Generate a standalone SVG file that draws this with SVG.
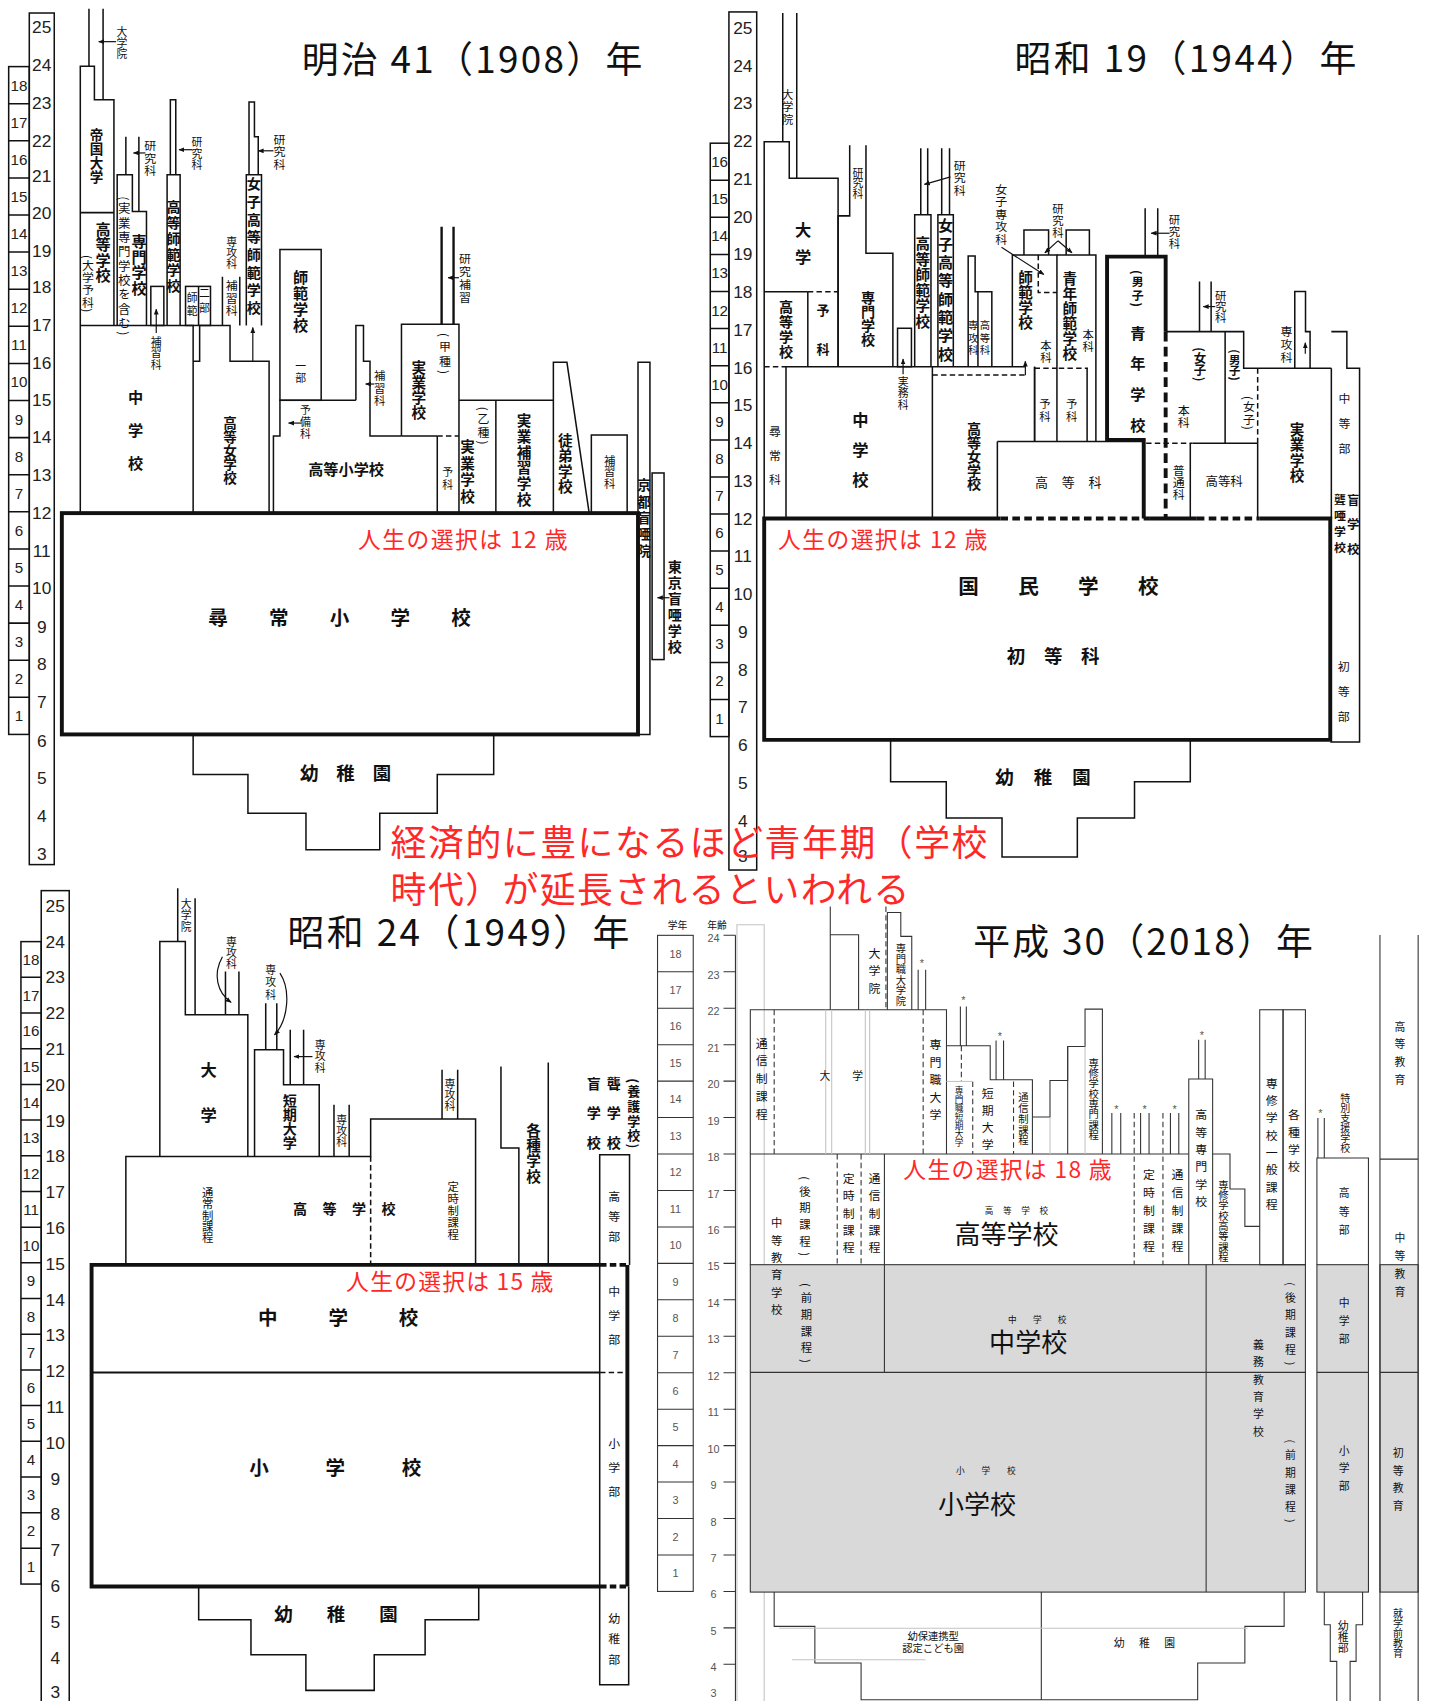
<svg xmlns="http://www.w3.org/2000/svg" width="1429" height="1701" viewBox="0 0 1429 1701">
<defs>
<style>
.t{font-family:"Noto Sans CJK JP","Noto Sans CJK SC",sans-serif;fill:#111}
.b{font-weight:700}
.v{writing-mode:vertical-rl}
.n{font-family:"Liberation Sans","DejaVu Sans",sans-serif;fill:#222;text-anchor:middle;dominant-baseline:central}
.sn{font-family:"Liberation Sans","DejaVu Sans",sans-serif;fill:#555;text-anchor:middle;dominant-baseline:central;font-size:10px}
.r{font-family:"Noto Sans CJK JP","Noto Sans CJK SC",sans-serif;fill:#ff2828}
.ti{font-family:"Noto Sans CJK JP","Noto Sans CJK SC",sans-serif;fill:#111;font-size:34px}
.l{fill:none;stroke:#111;stroke-width:1.4}
.k{fill:none;stroke:#111;stroke-width:3.6}
.d{stroke-dasharray:5 3}
.q{fill:none;stroke:#333;stroke-width:1}
.gr{fill:#d9d9d9;stroke:#333;stroke-width:1}
.lg{fill:none;stroke:#c4c4c4;stroke-width:1}
.a{fill:none;stroke:#111;stroke-width:1.1;marker-end:url(#ah)}
</style>
<marker id="ah" viewBox="0 0 10 10" refX="9" refY="5" markerWidth="5" markerHeight="5" orient="auto"><path d="M0,1L10,5L0,9z" fill="#111"/></marker>
</defs>
<rect x="0" y="0" width="1429" height="1701" fill="#fff"/>
<g transform="scale(1.08504,1.08482)">

<!-- ===================== 明治41 ===================== -->
<g id="p1908">
<text class="ti" x="278" y="67" textLength="314">明治 41（1908）年</text>
<g id="tl-ruler">
<rect class="l" x="27" y="12" width="23" height="785"/>
<rect class="l" x="8" y="61.4" width="19" height="615.6"/>
<path class="l" d="M8,642.8H27M8,608.6H27M8,574.4H27M8,540.2H27M8,506H27M8,471.8H27M8,437.6H27M8,403.4H27M8,369.2H27M8,335H27M8,300.8H27M8,266.6H27M8,232.4H27M8,198.2H27M8,164H27M8,129.8H27M8,95.6H27"/>
<g class="n" font-size="16">
<text x="38.5" y="25">25</text><text x="38.5" y="60">24</text><text x="38.5" y="95">23</text><text x="38.5" y="130">22</text><text x="38.5" y="162">21</text><text x="38.5" y="196">20</text><text x="38.5" y="231">19</text><text x="38.5" y="265">18</text><text x="38.5" y="300">17</text><text x="38.5" y="335">16</text><text x="38.5" y="369">15</text><text x="38.5" y="403">14</text><text x="38.5" y="438">13</text><text x="38.5" y="473">12</text><text x="38.5" y="508">11</text><text x="38.5" y="542">10</text><text x="38.5" y="578">9</text><text x="38.5" y="612">8</text><text x="38.5" y="647">7</text><text x="38.5" y="683">6</text><text x="38.5" y="717">5</text><text x="38.5" y="752">4</text><text x="38.5" y="787">3</text>
</g>
<g class="n" font-size="14">
<text x="17.5" y="78.5">18</text><text x="17.5" y="112.7">17</text><text x="17.5" y="146.9">16</text><text x="17.5" y="181.1">15</text><text x="17.5" y="215.3">14</text><text x="17.5" y="249.5">13</text><text x="17.5" y="283.7">12</text><text x="17.5" y="317.9">11</text><text x="17.5" y="352.1">10</text><text x="17.5" y="386.3">9</text><text x="17.5" y="420.5">8</text><text x="17.5" y="454.7">7</text><text x="17.5" y="488.9">6</text><text x="17.5" y="523.1">5</text><text x="17.5" y="557.3">4</text><text x="17.5" y="591.5">3</text><text x="17.5" y="625.7">2</text><text x="17.5" y="659.9">1</text>
</g>
</g>
<g id="tl-teikoku">
<path class="l" d="M82,8V61M95,8V92"/>
<path class="l" d="M74,473V61H87V92H105V300"/>
<path class="l" d="M74,196H105"/>
<text class="t v" x="112.4" y="24.6" font-size="10">大学院</text>
<text class="t v b" x="89" y="118" font-size="12.5" style="letter-spacing:0.3px">帝国大学</text>
<text class="t v b" x="95" y="204" font-size="14" style="letter-spacing:0.3px">高等学校</text>
<text class="t v" x="81" y="235" font-size="11" style="letter-spacing:0.3px">(大学予科)</text>
</g>
<g id="tl-chugaku">
<path class="l" d="M74,300H178V473"/>
<text class="t v b" x="125" y="359" font-size="14" style="letter-spacing:16.5px">中学校</text>
</g>
<g id="tl-senmon">
<path class="l" d="M108,300V161H122V195H135V300"/>
<path class="l" d="M116,126V161M128,126V195"/>
<text class="t v" x="114.5" y="181" font-size="11.5" style="letter-spacing:1.7px">(実業専門学校を含む)</text>
<text class="t v b" x="128.2" y="215" font-size="14" style="letter-spacing:0.7px">専門学校</text>
<text class="t v" x="138.5" y="129" font-size="11" style="letter-spacing:0.5px">研究科</text>
</g>
<g id="tl-hoshu1">
<rect class="l" x="139" y="264" width="12" height="36"/>
<text class="t v" x="144" y="310" font-size="10" style="letter-spacing:0.5px">補習科</text>
</g>
<g id="tl-koshi">
<path class="l" d="M154,300V161H166V300M157,161V92H162V161"/>
<text class="t v b" x="160" y="184" font-size="13" style="letter-spacing:1.6px">高等師範学校</text>
<text class="t v" x="181.5" y="126" font-size="10" style="letter-spacing:0.5px">研究科</text>
</g>
<g id="tl-nibu">
<rect class="l" x="171" y="264" width="23" height="36"/>
<path class="l" d="M183,264V300"/>
<text class="t v" x="177" y="270" font-size="10" style="letter-spacing:2px">師範</text>
<text class="t v" x="188.5" y="265" font-size="10" style="letter-spacing:4px">二部</text>
</g>
<g id="tl-kojo">
<path class="l" d="M178,333H184V300H212V333H248V473"/>
<path class="l" d="M205,255V300M221,255V300"/>
<text class="t v" x="213.5" y="218" font-size="10">専攻科</text>
<text class="t v" x="213.5" y="258" font-size="11" style="letter-spacing:0.5px">補習科</text>
<text class="t v b" x="212" y="384" font-size="12.5">高等女学校</text>
</g>
<g id="tl-joshikoshi">
<path class="l" d="M227,300V161H241V300M229.5,161V94H234.5V126H238V161"/>
<text class="t v b" x="234" y="163" font-size="13" style="letter-spacing:3.3px">女子高等師範学校</text>
<text class="t v" x="257.5" y="123" font-size="11" style="letter-spacing:0.5px">研究科</text>
</g>
<g id="tl-shihan">
<rect class="l" x="258" y="230" width="38" height="139"/>
<text class="t v b" x="277" y="249" font-size="14" style="letter-spacing:0.7px">師範学校</text>
<text class="t v" x="277" y="332" font-size="10" style="letter-spacing:1px">一部</text>
</g>
<g id="tl-koshogaku">
<path class="l" d="M252,473V402H258V369H328"/>
<path class="l" d="M328,369V300H335V333H341V402H370"/>
<text class="t v" x="281.5" y="373" font-size="10" style="letter-spacing:1px">予備科</text>
<text class="t v" x="350" y="341" font-size="10.5" style="letter-spacing:1.2px">補習科</text>
<text class="t b" x="284" y="438" font-size="14">高等小学校</text>
</g>
<g id="tl-jitsugyo-ko">
<path class="l" d="M370,402V299H423V473M370,402H403M403,402V473"/>
<path class="l d" d="M403,402H423"/>
<path class="l" style="stroke-width:2.2" d="M407,299V209M418,299V209"/>
<text class="t v b" x="386" y="332" font-size="13.5" style="letter-spacing:0.3px">実業学校</text>
<text class="t v" x="410" y="307" font-size="11" style="letter-spacing:2.8px">(甲種)</text>
<text class="t v" x="428.5" y="233" font-size="11" style="letter-spacing:1px">研究補習</text>
<text class="t v" x="412.5" y="430" font-size="10" style="letter-spacing:2px">予科</text>
</g>
<g id="tl-jitsugyo-otsu">
<path class="l" d="M423,369H510M457,369V473"/>
<text class="t v" x="445.6" y="375" font-size="11" style="letter-spacing:1.8px">(乙種)</text>
<text class="t v b" x="431" y="405" font-size="13.5" style="letter-spacing:1.7px">実業学校</text>
<text class="t v b" x="483" y="381" font-size="13.5" style="letter-spacing:1px">実業補習学校</text>
</g>
<g id="tl-totei">
<path class="l" d="M510,473V334H522.5L543,473"/>
<text class="t v b" x="521" y="399" font-size="13.5" style="letter-spacing:0.7px">徒弟学校</text>
</g>
<g id="tl-hoshu3">
<rect class="l" x="545" y="401" width="33" height="72"/>
<text class="t v" x="562" y="419" font-size="10.5" style="letter-spacing:0.3px">補習科</text>
</g>
<g id="tl-kyoto">
<path class="l" d="M588,473V334H599V677H588"/>
<text class="t v b" x="593.5" y="441" font-size="12.5" style="letter-spacing:2.6px">京都盲唖院</text>
</g>
<g id="tl-tokyo">
<rect class="l" x="601" y="436" width="11" height="172"/>
<text class="t v b" x="622" y="516" font-size="13" style="letter-spacing:1.8px">東京盲唖学校</text>
</g>
<g id="tl-jinjo">
<rect class="k" x="57" y="473" width="531" height="204"/>
<text class="t b" x="192" y="576" font-size="18" style="letter-spacing:38px">尋常小学校</text>
<text class="r" x="330" y="505" font-size="21" textLength="193">人生の選択は 12 歳</text>
</g>
<g id="tl-yochien">
<path class="l" d="M178,677V714H228.5V749.6H282V783.4H350V749.6H403V714H455V677"/>
<text class="t b" x="276.5" y="719" font-size="17" style="letter-spacing:16.5px">幼稚園</text>
</g>
</g>

<!-- ===================== 昭和19 ===================== -->
<g id="p1944">
<text class="ti" x="935" y="66" textLength="315">昭和 19（1944）年</text>
<g id="tr-ruler">
<rect class="l" x="671.8" y="11" width="25.6" height="791"/>
<rect class="l" x="654.6" y="132" width="17.2" height="547"/>
<path class="l" d="M654.6,644.8H671.8M654.6,610.6H671.8M654.6,576.4H671.8M654.6,542.2H671.8M654.6,508H671.8M654.6,473.9H671.8M654.6,439.7H671.8M654.6,405.5H671.8M654.6,371.3H671.8M654.6,337.1H671.8M654.6,302.9H671.8M654.6,268.7H671.8M654.6,234.5H671.8M654.6,200.3H671.8M654.6,166.2H671.8"/>
<g class="n" font-size="16">
<text x="684.6" y="25.6">25</text><text x="684.6" y="60.4">24</text><text x="684.6" y="95.2">23</text><text x="684.6" y="130">22</text><text x="684.6" y="164.8">21</text><text x="684.6" y="199.6">20</text><text x="684.6" y="234.4">19</text><text x="684.6" y="269.2">18</text><text x="684.6" y="304">17</text><text x="684.6" y="338.8">16</text><text x="684.6" y="373.6">15</text><text x="684.6" y="408.4">14</text><text x="684.6" y="443.2">13</text><text x="684.6" y="478">12</text><text x="684.6" y="512.8">11</text><text x="684.6" y="547.6">10</text><text x="684.6" y="582.4">9</text><text x="684.6" y="617.2">8</text><text x="684.6" y="652">7</text><text x="684.6" y="686.8">6</text><text x="684.6" y="721.6">5</text><text x="684.6" y="756.4">4</text><text x="684.6" y="789.5">3</text>
</g>
<g class="n" font-size="14">
<text x="663.2" y="149.1">16</text><text x="663.2" y="183.3">15</text><text x="663.2" y="217.5">14</text><text x="663.2" y="251.6">13</text><text x="663.2" y="285.8">12</text><text x="663.2" y="320">11</text><text x="663.2" y="354.2">10</text><text x="663.2" y="388.4">9</text><text x="663.2" y="422.6">8</text><text x="663.2" y="456.8">7</text><text x="663.2" y="491">6</text><text x="663.2" y="525.1">5</text><text x="663.2" y="559.3">4</text><text x="663.2" y="593.5">3</text><text x="663.2" y="627.7">2</text><text x="663.2" y="661.9">1</text>
</g>
</g>
<g id="tr-daigaku">
<path class="l" d="M721.4,12V130.6M734.3,12V164.4"/>
<path class="l" d="M704.3,478V130.6H727.4V164.4H772.4V338"/>
<path class="l" d="M704.3,269H744.5M744.5,269V338"/>
<path class="l d" d="M744.5,269H772.4"/>
<text class="t v" x="726" y="82" font-size="10.5" style="letter-spacing:1px">大学院</text>
<text class="t v b" x="740.3" y="204.5" font-size="15" style="letter-spacing:10px">大学</text>
<text class="t v b" x="724.4" y="276" font-size="13" style="letter-spacing:1px">高等学校</text>
<text class="t v b" x="758.6" y="280" font-size="12" style="letter-spacing:24px">予科</text>
</g>
<g id="tr-jinjoka">
<path class="l d" d="M704.3,338H724.4"/>
<path class="l" d="M724.4,338V478"/>
<text class="t v" x="714.3" y="392.3" font-size="11" style="letter-spacing:11.3px">尋常科</text>
</g>
<g id="tr-chugaku">
<path class="l" d="M724.4,338H945M859.3,338V478"/>
<text class="t v b" x="793" y="379.5" font-size="15" style="letter-spacing:12.5px">中学校</text>
</g>
<g id="tr-senmon">
<path class="l" d="M772.4,338V199H783.1V134M798.1,134V233.5H822.9V338"/>
<text class="t v b" x="800" y="268" font-size="13">専門学校</text>
<text class="t v" x="790.8" y="154" font-size="10">研究科</text>
</g>
<g id="tr-jitsumu">
<rect class="l" x="827.2" y="302.6" width="12.8" height="35.4"/>
<text class="t v" x="832.3" y="347" font-size="10" style="letter-spacing:0.5px">実務科</text>
</g>
<g id="tr-koshi">
<path class="l" d="M843,338V198H858V338M848.6,198V136.7M855,198V136.7"/>
<text class="t v b" x="850.6" y="218" font-size="13.5" style="letter-spacing:0.8px">高等師範学校</text>
</g>
<g id="tr-joshikoshi">
<path class="l" d="M864.4,338V198H878.6V338M867.9,198V136.7M875.1,198V136.7"/>
<text class="t v b" x="871.5" y="201" font-size="14" style="letter-spacing:2.9px">女子高等師範学校</text>
<text class="t v" x="884.5" y="147" font-size="11" style="letter-spacing:0.5px">研究科</text>
</g>
<g id="tr-kojo">
<path class="l d" d="M859.3,345.6H945"/>
<path class="l" d="M953.5,338V407M919.2,407V478"/>
<text class="t v b" x="897.8" y="389" font-size="13" style="letter-spacing:-0.3px">高等女学校</text>
</g>
<g id="tr-senkoka">
<path class="l" d="M892.3,338V236H898.7V269H914.1V338M901.3,269V338"/>
<text class="t v" x="896.8" y="295" font-size="9.5" style="letter-spacing:2px">専攻科</text>
<text class="t v" x="907.7" y="295" font-size="9.5" style="letter-spacing:2px">高等科</text>
<text class="t v" x="922.7" y="169" font-size="11" style="letter-spacing:0.5px">女子専攻科</text>
</g>
<g id="tr-shihan">
<path class="l" d="M933,338V235H974.1V407M953.5,338V407M943.7,235V212H966.4V235M982.6,235V212H1004V235"/>
<path class="l d" d="M956.9,235V269.7H974.1M953.5,339.5H974.1"/>
<text class="t v" x="975" y="187" font-size="10.5" style="letter-spacing:0.7px">研究科</text>
<text class="t v b" x="945.2" y="249" font-size="13.5" style="letter-spacing:0.3px">師範学校</text>
<text class="t v" x="964" y="313" font-size="10.5" style="letter-spacing:1px">本科</text>
<text class="t v" x="963" y="367" font-size="10.5" style="letter-spacing:1px">予科</text>
</g>
<g id="tr-seinenshihan">
<path class="l" d="M974.1,235H1010V407M1001.9,339.5V407"/>
<path class="l d" d="M975.8,339.5H1002.7"/>
<text class="t v b" x="986" y="250" font-size="13.5" style="letter-spacing:0.4px">青年師範学校</text>
<text class="t v" x="1003" y="303" font-size="10.5" style="letter-spacing:1px">本科</text>
<text class="t v" x="987.8" y="367" font-size="10.5" style="letter-spacing:1px">予科</text>
</g>
<g id="tr-kotoka">
<path class="l" d="M919.2,407H1054.1"/>
<text class="t" x="954" y="449" font-size="12" style="letter-spacing:12.6px">高等科</text>
</g>
<g id="tr-seinen">
<path class="k" d="M1054.1,478V405.5H1020.3V236.6H1074.3V305.7"/>
<path class="k" style="stroke-dasharray:9 5" d="M1074.3,305.7V478"/>
<path class="l" d="M1055.4,192V236.6M1067,192V236.6"/>
<text class="t v" x="1082.5" y="197" font-size="10.5" style="letter-spacing:0.7px">研究科</text>
<text class="t v b" x="1048.6" y="249" font-size="11" style="letter-spacing:1.2px">(男子)</text>
<text class="t v b" x="1048.6" y="300" font-size="14" style="letter-spacing:14.3px">青年学校</text>
</g>
<g id="tr-joshi">
<path class="l" d="M1074.3,305.7H1146.2V339.5H1227M1129.1,305.7V408.6M1105.5,259.6V305.7M1116.2,259.6V305.7M1099.1,408.6H1159.1M1097,408.6V478M1159.1,408.6V478"/>
<path class="l d" d="M1159.1,339.5V408.6M1056.3,408.6H1099.1"/>
<text class="t v" x="1125" y="267" font-size="10.5">研究科</text>
<text class="t v b" x="1106" y="320" font-size="11.5">(女子)</text>
<text class="t v" x="1091" y="373" font-size="11">本科</text>
<text class="t v b" x="1138" y="322" font-size="10.5">(男子)</text>
<text class="t v" x="1151" y="365" font-size="11" style="letter-spacing:0.6px">(女子)</text>
<text class="t v" x="1086.3" y="428" font-size="11">普通科</text>
<text class="t" x="1128.2" y="448" font-size="11.5" text-anchor="middle">高等科</text>
</g>
<g id="tr-jitsugyo">
<path class="l" d="M1193.3,339.5V268.8H1203.2V305.7H1207.4V339.5M1227,339.5V478"/>
<text class="t v" x="1185.6" y="300" font-size="11" style="letter-spacing:1px">専攻科</text>
<text class="t v b" x="1195.4" y="389" font-size="13.5" style="letter-spacing:0.7px">実業学校</text>
</g>
<g id="tr-mou">
<path class="l" d="M1227,305.7H1241.3V339.5H1253V684H1226"/>
<text class="t v" x="1239" y="361.5" font-size="11" style="letter-spacing:12px">中等部</text>
<text class="t v b" x="1235" y="455" font-size="11" style="letter-spacing:3.7px">聾唖学校</text>
<text class="t v b" x="1247.3" y="455" font-size="11.5" style="letter-spacing:11.2px">盲学校</text>
<text class="t v" x="1238.5" y="609" font-size="11" style="letter-spacing:12px">初等部</text>
</g>
<g id="tr-kokumin">
<path class="k" d="M922,478H704.3V682H1226V478H1161"/>
<path class="k" d="M1059,478H1103"/>
<path class="k" style="stroke-dasharray:7 4" d="M922,478H1059M1103,478H1161"/>
<text class="t b" x="883.2" y="547.5" font-size="19" style="letter-spacing:36.2px">国民学校</text>
<text class="t b" x="927.9" y="611" font-size="17" style="letter-spacing:17.2px">初等科</text>
<text class="r" x="717" y="505" font-size="21" textLength="193">人生の選択は 12 歳</text>
</g>
<g id="tr-yochien">
<path class="l" d="M820.8,682V720.6H872.1V754H923.5V790H992.9V754H1045.6V720.6H1097V682"/>
<text class="t b" x="917.2" y="723" font-size="17" style="letter-spacing:18.5px">幼稚園</text>
</g>
</g>

<!-- ===================== 昭和24 ===================== -->
<g id="p1949">
<text class="ti" x="265" y="872" textLength="315">昭和 24（1949）年</text>
<g id="bl-ruler">
<rect class="l" x="38" y="821" width="25.8" height="760"/>
<rect class="l" x="19.3" y="868" width="18.7" height="592.2"/>
<path class="l" d="M19.3,1427.3H38M19.3,1394.4H38M19.3,1361.5H38M19.3,1328.6H38M19.3,1295.7H38M19.3,1262.8H38M19.3,1229.9H38M19.3,1197H38M19.3,1164.1H38M19.3,1131.2H38M19.3,1098.3H38M19.3,1065.4H38M19.3,1032.5H38M19.3,999.6H38M19.3,966.7H38M19.3,933.8H38M19.3,900.9H38"/>
<g class="n" font-size="16">
<text x="50.9" y="835">25</text><text x="50.9" y="868">24</text><text x="50.9" y="901">23</text><text x="50.9" y="934">22</text><text x="50.9" y="967">21</text><text x="50.9" y="1000">20</text><text x="50.9" y="1033">19</text><text x="50.9" y="1066">18</text><text x="50.9" y="1099">17</text><text x="50.9" y="1132">16</text><text x="50.9" y="1165">15</text><text x="50.9" y="1198">14</text><text x="50.9" y="1231">13</text><text x="50.9" y="1264">12</text><text x="50.9" y="1297">11</text><text x="50.9" y="1330">10</text><text x="50.9" y="1363">9</text><text x="50.9" y="1396">8</text><text x="50.9" y="1429">7</text><text x="50.9" y="1462">6</text><text x="50.9" y="1495">5</text><text x="50.9" y="1528">4</text><text x="50.9" y="1560">3</text>
</g>
<g class="n" font-size="14">
<text x="28.6" y="884.5">18</text><text x="28.6" y="917.4">17</text><text x="28.6" y="950.3">16</text><text x="28.6" y="983.2">15</text><text x="28.6" y="1016.1">14</text><text x="28.6" y="1049">13</text><text x="28.6" y="1081.9">12</text><text x="28.6" y="1114.8">11</text><text x="28.6" y="1147.7">10</text><text x="28.6" y="1180.6">9</text><text x="28.6" y="1213.5">8</text><text x="28.6" y="1246.4">7</text><text x="28.6" y="1279.3">6</text><text x="28.6" y="1312.2">5</text><text x="28.6" y="1345.1">4</text><text x="28.6" y="1378">3</text><text x="28.6" y="1410.9">2</text><text x="28.6" y="1443.8">1</text>
</g>
</g>
<g id="bl-daigaku">
<path class="l" d="M163.8,818.7V867.9M179.8,828V935.4"/>
<path class="l" d="M147.3,1066V867.9H170.8V935.4H228.4V1066"/>
<path class="l" d="M207.8,895.5V935.4M220.2,895.5V935.4"/>
<text class="t v" x="171.5" y="828" font-size="10" style="letter-spacing:0.5px">大学院</text>
<text class="t v b" x="192.2" y="978.6" font-size="15" style="letter-spacing:26.5px">大学</text>
<text class="t v" x="213.3" y="863" font-size="10" style="letter-spacing:0.5px">専攻科</text>
</g>
<g id="bl-tandai">
<path class="l" d="M234.6,1066V967.7H261.3V1000H294.2V1066M244.9,924.7V967.7M255.1,924.7V967.7M267.5,949.3V1000M279.8,949.3V1000"/>
<text class="t v" x="249.5" y="889" font-size="10" style="letter-spacing:1.5px">専攻科</text>
<text class="t v" x="295" y="958" font-size="10" style="letter-spacing:0.5px">専攻科</text>
<text class="t v b" x="267" y="1008" font-size="13">短期大学</text>
</g>
<g id="bl-senko">
<path class="l" d="M307.8,1018.4V1066M321.8,1018.4V1066"/>
<text class="t v" x="314.8" y="1027" font-size="10" style="letter-spacing:0.5px">専攻科</text>
</g>
<g id="bl-koko">
<path class="l" d="M116,1166V1066H341.6V1031.6H438.3V1166M407.4,986.1V1031.6M421.8,986.1V1031.6"/>
<path class="l d" d="M341.6,1066V1166"/>
<text class="t v" x="191.4" y="1094" font-size="10.5">通常制課程</text>
<text class="t b" x="270" y="1119.5" font-size="13" style="letter-spacing:14.2px">高等学校</text>
<text class="t v" x="417.7" y="1089" font-size="10.5" style="letter-spacing:0.4px">定時制課程</text>
<text class="t v" x="414.6" y="994" font-size="10">専攻科</text>
</g>
<g id="bl-kakushu">
<path class="l" d="M461.7,983V1058.3H478.2V1166M505.3,979.4V1166"/>
<text class="t v b" x="491.8" y="1035" font-size="13.5" style="letter-spacing:0.7px">各種学校</text>
</g>
<g id="bl-tokushu">
<path class="l" d="M552.7,1166V1064.5H580.2V1166"/>
<text class="t v b" x="547.3" y="992" font-size="13" style="letter-spacing:14.6px">盲学校</text>
<text class="t v b" x="565.8" y="992" font-size="13" style="letter-spacing:14.6px">聾学校</text>
<text class="t v b" x="584" y="994" font-size="12" style="letter-spacing:1.5px">(養護学校)</text>
<text class="t v" x="566" y="1097.5" font-size="11" style="letter-spacing:7.4px">高等部</text>
<text class="t v" x="566" y="1185" font-size="11" style="letter-spacing:11.3px">中学部</text>
<text class="t v" x="566" y="1324.8" font-size="11" style="letter-spacing:11.3px">小学部</text>
<text class="t v" x="566" y="1486" font-size="11" style="letter-spacing:8.2px">幼稚部</text>
<path class="l" d="M552.7,1166V1462.4M552.7,1462.4V1553H579.4V1462.4"/>
<path class="l d" d="M553,1265.2H578"/>
</g>
<g id="bl-gimu">
<path class="k" d="M553,1166H84.4V1462.4H553M578.2,1166V1462.4"/>
<path class="k" style="stroke-dasharray:6 3" d="M553,1166H578.2M553,1462.4H578.2"/>
<path class="l" style="stroke-width:1.8" d="M84.4,1265.2H553"/>
<text class="t b" x="237.9" y="1221" font-size="18" style="letter-spacing:46.8px">中学校</text>
<text class="t b" x="229.7" y="1359.5" font-size="18" style="letter-spacing:52.3px">小学校</text>
<text class="r" x="319" y="1189" font-size="21" textLength="191">人生の選択は 15 歳</text>
</g>
<g id="bl-yochien">
<path class="l" d="M183.1,1462.4V1493.1H231.3V1525.4H281.9V1558.2H344.9V1525.4H391.8V1493.1H441.2V1462.4"/>
<text class="t b" x="252.8" y="1494" font-size="17" style="letter-spacing:31.4px">幼稚園</text>
</g>
</g>

<!-- ===================== 平成30 ===================== -->
<g id="p2018">
<text class="ti" x="897" y="880" textLength="313">平成 30（2018）年</text>
<path class="lg" d="M679.2,1568V852.5H704.3V1568"/>
<g id="br-axis">
<text class="t" x="624.3" y="856" font-size="9" text-anchor="middle" fill="#444">学年</text>
<text class="t" x="660.9" y="856" font-size="9" text-anchor="middle" fill="#444">年齢</text>
<rect class="q" x="606" y="862.2" width="32.9" height="604.8"/>
<path class="q" d="M606,895.8H638.9M606,929.4H638.9M606,963H638.9M606,996.6H638.9M606,1030.2H638.9M606,1063.8H638.9M606,1097.4H638.9M606,1131H638.9M606,1164.6H638.9M606,1198.2H638.9M606,1231.8H638.9M606,1265.4H638.9M606,1299H638.9M606,1332.6H638.9M606,1366.2H638.9M606,1399.8H638.9M606,1433.4H638.9"/>
<path class="q" d="M677.8,862.2V1568M666.8,862.2H677.8M666.8,895.8H677.8M666.8,929.4H677.8M666.8,963H677.8M666.8,996.6H677.8M666.8,1030.2H677.8M666.8,1063.8H677.8M666.8,1097.4H677.8M666.8,1131H677.8M666.8,1164.6H677.8M666.8,1198.2H677.8M666.8,1231.8H677.8M666.8,1265.4H677.8M666.8,1299H677.8M666.8,1332.6H677.8M666.8,1366.2H677.8M666.8,1399.8H677.8M666.8,1433.4H677.8M666.8,1467H677.8M666.8,1500.6H677.8M666.8,1534.2H677.8"/>
<g class="sn">
<text x="657.5" y="865">24</text><text x="657.5" y="898.6">23</text><text x="657.5" y="932.2">22</text><text x="657.5" y="965.8">21</text><text x="657.5" y="999.4">20</text><text x="657.5" y="1033">19</text><text x="657.5" y="1066.6">18</text><text x="657.5" y="1100.2">17</text><text x="657.5" y="1133.8">16</text><text x="657.5" y="1167.4">15</text><text x="657.5" y="1201">14</text><text x="657.5" y="1234.6">13</text><text x="657.5" y="1268.2">12</text><text x="657.5" y="1301.8">11</text><text x="657.5" y="1335.4">10</text><text x="657.5" y="1369">9</text><text x="657.5" y="1402.6">8</text><text x="657.5" y="1436.2">7</text><text x="657.5" y="1469.8">6</text><text x="657.5" y="1503.4">5</text><text x="657.5" y="1537">4</text><text x="657.5" y="1561">3</text>
<text x="622.5" y="879">18</text><text x="622.5" y="912.6">17</text><text x="622.5" y="946.2">16</text><text x="622.5" y="979.8">15</text><text x="622.5" y="1013.4">14</text><text x="622.5" y="1047">13</text><text x="622.5" y="1080.6">12</text><text x="622.5" y="1114.2">11</text><text x="622.5" y="1147.8">10</text><text x="622.5" y="1181.4">9</text><text x="622.5" y="1215">8</text><text x="622.5" y="1248.6">7</text><text x="622.5" y="1282.2">6</text><text x="622.5" y="1315.8">5</text><text x="622.5" y="1349.4">4</text><text x="622.5" y="1383">3</text><text x="622.5" y="1416.6">2</text><text x="622.5" y="1450.2">1</text>
</g>
</g>
<g id="br-gimu">
<rect class="gr" x="691.5" y="1165.8" width="511.6" height="301.8"/>
<path class="q" d="M691.5,1265.1H1203.1M815.1,1165.8V1265.1M1111.6,1165.8V1467.6"/>
<text class="t" x="929.1" y="1219.5" font-size="8" fill="#444" style="letter-spacing:14.9px">中学校</text>
<text class="t" x="911.6" y="1246.5" font-size="24">中学校</text>
<text class="t" x="881.1" y="1359" font-size="8" fill="#444" style="letter-spacing:15.5px">小学校</text>
<text class="t" x="864.5" y="1395.5" font-size="24">小学校</text>
<text class="t v" x="1159.7" y="1234.6" font-size="10" style="letter-spacing:6px">義務教育学校</text>
<text class="t v" x="1189.4" y="1182" font-size="10" style="letter-spacing:6px">(後期課程)</text>
<text class="t v" x="1189.4" y="1327" font-size="10" style="letter-spacing:6px">(前期課程)</text>
<text class="t v" x="743.2" y="1182.8" font-size="10.5" style="letter-spacing:4.9px">(前期課程)</text>
</g>
<g id="br-tokubetsu">
<rect class="gr" x="1213.7" y="1165.8" width="47.5" height="301.8"/>
<path class="q" d="M1213.7,1265.1H1261.2M1213.7,1165.8V1067.5H1261.2V1165.8M1214.6,1030.7V1067.5M1220.5,1030.7V1067.5"/>
<path class="q" d="M1220.5,1467.6V1497.7H1226V1531.5H1232V1568M1255.8,1467.6V1497.7H1249.8V1531.5H1244.3V1568"/>
<text class="t v" x="1239.7" y="1007.6" font-size="9.2">特別支援学校</text>
<text class="t v" x="1238.8" y="1094.8" font-size="10" style="letter-spacing:6.9px">高等部</text>
<text class="t v" x="1238.8" y="1196.2" font-size="10" style="letter-spacing:6.6px">中学部</text>
<text class="t v" x="1238.8" y="1332" font-size="10" style="letter-spacing:6.3px">小学部</text>
<text class="t v" x="1238" y="1494" font-size="10">幼稚部</text>
</g>
<g id="br-kubun">
<rect class="gr" x="1271.8" y="1165.8" width="35.2" height="301.8"/>
<path class="q" d="M1271.8,1265.1H1307M1271.8,862V1568M1307,862V1568M1271.8,1068.5H1307"/>
<text class="t v" x="1290.1" y="941.2" font-size="10" style="letter-spacing:6.4px">高等教育</text>
<text class="t v" x="1290.1" y="1136.3" font-size="10" style="letter-spacing:6.4px">中等教育</text>
<text class="t v" x="1288.5" y="1334.5" font-size="10" style="letter-spacing:6.2px">初等教育</text>
<text class="t v" x="1288.5" y="1482.3" font-size="9.2">就学前教育</text>
</g>
<g id="br-koko">
<path class="q" d="M691.5,1165.8V1063.8H1095.6M815.1,1063.8V1165.8"/>
<path class="q d" d="M771.6,1063.8V1165.8M793.6,1063.8V1165.8M1045.3,1026V1165.8M1071.8,1026V1165.8"/>
<text class="t v" x="715.8" y="1122.2" font-size="10.5" style="letter-spacing:5.5px">中等教育学校</text>
<text class="t v" x="741.9" y="1084.4" font-size="10.5" style="letter-spacing:4.9px">(後期課程)</text>
<text class="t v" x="782.1" y="1080.5" font-size="11" style="letter-spacing:5.1px">定時制課程</text>
<text class="t v" x="805.9" y="1080.5" font-size="11" style="letter-spacing:5.1px">通信制課程</text>
<text class="t" x="907.6" y="1119" font-size="8" fill="#444" style="letter-spacing:8.8px">高等学校</text>
<text class="t" x="879.6" y="1147" font-size="24">高等学校</text>
<text class="t v" x="1059" y="1077.5" font-size="11" style="letter-spacing:5.5px">定時制課程</text>
<text class="t v" x="1085.1" y="1077.5" font-size="11" style="letter-spacing:5.5px">通信制課程</text>
<text class="r" x="832.5" y="1086" font-size="21" textLength="192">人生の選択は 18 歳</text>
</g>
<g id="br-kosen">
<path class="q" d="M1095.6,1165.8V994.7H1117.6V1165.8M1104.7,958.5V994.7M1110.7,958.5V994.7"/>
<text class="t v" x="1107.1" y="1022.1" font-size="11" style="letter-spacing:5px">高等専門学校</text>
</g>
<g id="br-senshu">
<path class="q" d="M1117.6,1063.8H1133.6V1096.1H1147.3V1130.5H1161"/>
<rect class="q" x="1161" y="930.8" width="21.5" height="235"/>
<rect class="q" x="1182.5" y="930.8" width="20.6" height="235"/>
<text class="t v" x="1127.6" y="1087.5" font-size="9.5">専修学校高等課程</text>
<text class="t v" x="1172" y="993" font-size="11" style="letter-spacing:5px">専修学校一般課程</text>
<text class="t v" x="1192.6" y="1022.1" font-size="11" style="letter-spacing:4.9px">各種学校</text>
</g>
<g id="br-daigaku">
<path class="q" d="M691.5,1063.8V930.8H872.3V1063.8"/>
<path class="q d" d="M713.5,930.8V1063.8M850.8,930.8V1063.8"/>
<path class="lg" d="M761,930.8V1063.8M766.5,930.8V1063.8M797.5,930.8V1063.8M801.5,930.8V1063.8"/>
<text class="t v" x="702" y="956" font-size="11" style="letter-spacing:5.5px">通信制課程</text>
<text class="t" x="760.2" y="995.5" font-size="10" fill="#777" text-anchor="middle">大</text>
<text class="t" x="790.4" y="995.5" font-size="10" fill="#777" text-anchor="middle">学</text>
<text class="t v" x="862.2" y="957.5" font-size="11" style="letter-spacing:5.1px">専門職大学</text>
</g>
<g id="br-daigakuin">
<path class="q" d="M765.2,835.6V930.8M765.2,861.7H791.3V930.8M817.8,930.8V841.1H830.2V863.2H840.3V930.8M846.2,894V930.8M853.1,894V930.8"/>
<path class="q d" d="M816.5,835.6V930.8"/>
<text class="t v" x="805.9" y="873.1" font-size="11" style="letter-spacing:5.1px">大学院</text>
<text class="t v" x="830.2" y="869.4" font-size="9.5" style="letter-spacing:0.2px">専門職大学院</text>
</g>
<g id="br-tandai">
<path class="q" d="M872.3,964H912.6V995.3H951.5V1063.8M885.1,927.7V964M890.6,927.7V964M918,959.1V995.3M924.9,959.1V995.3"/>
<path class="q d" d="M886,964V996.9M896.5,996.9V1063.8M934.1,996.9V1063.8"/>
<path class="lg" d="M872.3,996.9H896.5"/>
<text class="t v" x="884" y="1001.5" font-size="8">専門職短期大学</text>
<text class="t v" x="910.3" y="1002.1" font-size="11" style="letter-spacing:4.9px">短期大学</text>
<text class="t v" x="943.2" y="1007" font-size="9.5" style="letter-spacing:0.4px">通信制課程</text>
</g>
<g id="br-senmonkatei">
<path class="q" d="M951.5,1029.7H967.7V996H984V964.7H1000V930.2H1016V1063.8"/>
<path class="lg" d="M967.7,1029.7V1063.8M1000,964.7V1063.8"/>
<path class="q" d="M984,964.7V1063.8"/>
<path class="q" d="M1024.7,1026V1063.8M1032.9,1026V1063.8M1051.2,1026V1063.8M1059,1026V1063.8M1078.7,1026V1063.8M1086.4,1026V1063.8"/>
<text class="t v" x="1008" y="975" font-size="9.5">専修学校専門課程</text>
</g>
<g id="br-marks" class="sn" font-size="9">
<text x="849.6" y="888">*</text><text x="887.8" y="922">*</text><text x="921.5" y="955">*</text><text x="1028.8" y="1022">*</text><text x="1055" y="1022">*</text><text x="1082.5" y="1022">*</text><text x="1107.7" y="954">*</text><text x="1216.9" y="1026">*</text>
</g>
<g id="br-yochien">
<path class="q" d="M713.5,1467.6V1499.2H751V1533H793.6V1566.8H1103.8V1533H1147.3V1499.2H1183.5V1467.6M959.7,1467.6V1566.8"/>
<path class="lg" d="M718,1501H1150M730,1530H853"/>
<text class="t" x="860" y="1511.5" font-size="9.5" text-anchor="middle" fill="#333">幼保連携型</text>
<text class="t" x="860" y="1523" font-size="9.5" text-anchor="middle" fill="#333">認定こども園</text>
<text class="t" x="1026.5" y="1518" font-size="10" fill="#333" style="letter-spacing:13.3px">幼稚園</text>
</g>
</g>

<!-- ===================== connectors ===================== -->
<g id="connectors">
<path class="a" d="M107,38.4H91"/>
<path class="a" d="M134,141H123"/>
<path class="a" d="M144,307V285"/>
<path class="a" d="M177,138H165"/>
<path class="a" d="M233,333V302"/>
<path class="a" d="M252,139H238"/>
<path class="a" d="M278,390H266"/>
<path class="a" d="M345,354H337"/>
<path class="a" d="M423,256H413"/>
<path class="a" d="M617,551H606"/>
<path class="a" d="M876,163L852,170"/>
<path class="a" d="M832.3,345V331"/>
<path class="a" d="M923,228L962,253"/>
<path class="a" d="M975,222L963,233"/>
<path class="a" d="M975,222L988,233"/>
<path class="a" d="M945,346V333"/>
<path class="a" d="M1078,215H1061"/>
<path class="a" d="M1120,282.6H1109"/>
<path class="a" d="M1203,326V316"/>
<path class="a" d="M205,882C196,898 200,915 213,924"/>
<path class="a" d="M258,897C268,912 266,940 253,954"/>
<path class="a" d="M288,974H271"/>
</g>

<!-- ===================== note ===================== -->
<g id="note">
<text class="r" x="360" y="789" font-size="33" textLength="550">経済的に豊になるほど青年期（学校</text>
<text class="r" x="360" y="832" font-size="33" textLength="478">時代）が延長されるといわれる</text>
</g>
</g>
</svg>
